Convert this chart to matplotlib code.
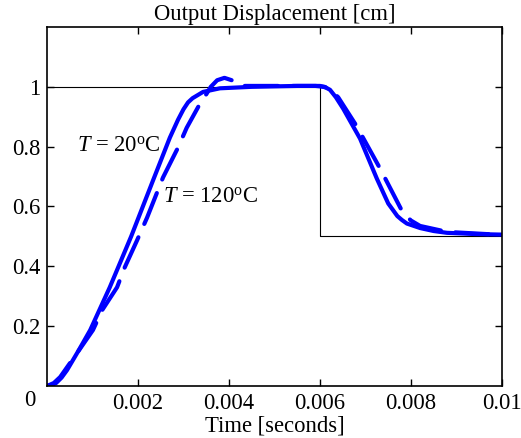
import matplotlib
matplotlib.use("Agg")
import matplotlib.pyplot as plt

plt.rcParams['font.family'] = ['Liberation Serif', 'DejaVu Serif']
plt.rcParams['mathtext.fontset'] = 'custom'
plt.rcParams['mathtext.rm'] = 'Liberation Serif'
plt.rcParams['mathtext.it'] = 'Liberation Serif:italic'

# Reference step input
ref_t = [0.0, 0.006, 0.006, 0.01]
ref_v = [1.0, 1.0, 0.5, 0.5]

# T = 20 C response (solid)
t20 = [0.0, 0.0001, 0.0002, 0.00032, 0.00044, 0.0007, 0.00095, 0.00138, 0.00185, 0.00233,
       0.0027, 0.00288, 0.003, 0.0031, 0.0032, 0.00343, 0.0038, 0.0045, 0.0055,
       0.0059, 0.0061, 0.00622, 0.00635, 0.00651, 0.00688, 0.00725, 0.0075, 0.0077,
       0.0078, 0.00791, 0.0082, 0.0085, 0.00879, 0.0094, 0.01]
v20 = [0.0, 0.003, 0.01, 0.028, 0.053, 0.12, 0.187, 0.33, 0.50, 0.687,
       0.83, 0.89, 0.925, 0.948, 0.962, 0.983, 0.995, 1.0, 1.003,
       1.003, 1.0, 0.99, 0.965, 0.927, 0.827, 0.693, 0.61, 0.568,
       0.555, 0.543, 0.528, 0.518, 0.512, 0.508, 0.506]

# T = 120 C response (dashed)
t120 = [0.0, 0.00015, 0.00029, 0.00066, 0.00101, 0.00121, 0.00154, 0.00171, 0.00198, 0.0022,
        0.00255, 0.00288, 0.00307, 0.00336, 0.0035, 0.0036, 0.00374, 0.0039, 0.0041, 0.0043,
        0.005, 0.006, 0.0062, 0.0064, 0.0068, 0.00732, 0.00782, 0.008, 0.0082, 0.0088, 0.01]
v120 = [0.0, 0.01, 0.03, 0.11, 0.187, 0.253, 0.33, 0.397, 0.487, 0.563,
        0.697, 0.797, 0.863, 0.943, 0.975, 1.0, 1.022, 1.03, 1.02, 1.003,
        1.003, 1.003, 0.995, 0.965, 0.87, 0.727, 0.58, 0.553, 0.535, 0.515, 0.505]

xticks = [0.002, 0.004, 0.006, 0.008, 0.01]
xticklabels = ['0.002', '0.004', '0.006', '0.008', '0.01']
yticks = [0.2, 0.4, 0.6, 0.8, 1.0]
yticklabels = ['0.2', '0.4', '0.6', '0.8', '1']

FS = 16.3

fig = plt.figure(figsize=(5.21, 4.38), dpi=100)
ax = fig.add_axes([0.0902, 0.1187, 0.8733, 0.8197])

ax.plot(ref_t, ref_v, color='black', lw=0.8)
ax.plot(t20, v20, color='#0000ff', lw=3.0, solid_capstyle='round', solid_joinstyle='round')
ax.plot(t120, v120, color='#0000ff', lw=3.0, dashes=(8, 3.5), dash_capstyle='round',
        dash_joinstyle='round')

ax.set_xlim(0, 0.01)
ax.set_ylim(0, 1.2)
ax.set_xticks(xticks)
ax.set_xticklabels(xticklabels)
ax.set_yticks(yticks)
ax.set_yticklabels(yticklabels)
ax.tick_params(direction='in', length=5, width=1, top=True, right=True, labelsize=FS, pad=5)
for s in ax.spines.values():
    s.set_linewidth(1.2)

ax.text(-0.037, -0.04, '0', transform=ax.transAxes, fontsize=FS, ha='center', va='center')

ax.set_title('Output Displacement [cm]', fontsize=FS, pad=5)
ax.set_xlabel('Time [seconds]', fontsize=FS, labelpad=1)

ax.text(0.00067, 0.8, r'$\mathit{T}$ = 20$^{\rm o}$C', fontsize=FS, va='center')
ax.text(0.00254, 0.63, r'$\mathit{T}$ = 120$^{\rm o}$C', fontsize=FS, va='center')

fig.savefig('out.png', dpi=100)
